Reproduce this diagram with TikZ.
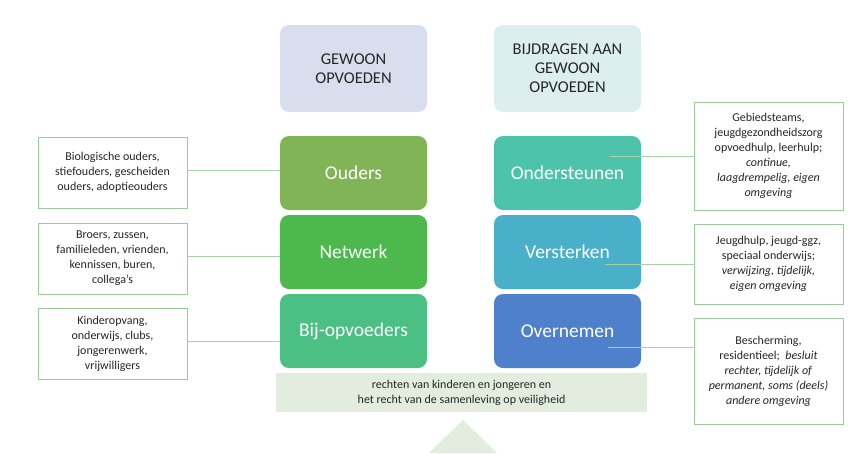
\documentclass[tikz,border=0pt]{standalone}
\usepackage{fontspec}
\setmainfont{Carlito}
\begin{document}
\begin{tikzpicture}[x=1pt,y=-1pt,
  big/.style={rounded corners=9pt,text=white,font=\fontsize{19.5}{22}\selectfont,align=center},
  head/.style={rounded corners=9pt,font=\fontsize{16.5}{19}\selectfont,align=center,text=black!85},
  side/.style={draw=green!50!black!40,line width=0.6pt,fill=white,font=\fontsize{12}{15}\selectfont,align=center,text=black!85,inner sep=1pt},
  conn/.style={draw=green!50!black!35,line width=0.6pt}]
\useasboundingbox (0,0) rectangle (856,453);
\definecolor{h1}{HTML}{D9DEEE}\definecolor{h2}{HTML}{DDEEEE}
\definecolor{c1}{HTML}{80B456}\definecolor{c2}{HTML}{4CB84E}\definecolor{c3}{HTML}{4CBF84}
\definecolor{c4}{HTML}{4DC3AC}\definecolor{c5}{HTML}{4AAFC9}\definecolor{c6}{HTML}{4E80CC}
\definecolor{bar}{HTML}{E2EDDF}
% triangle
\fill[bar] (463,420) -- (497,453) -- (429,453) -- cycle;
\node[head,fill=h1,minimum width=147pt,minimum height=87pt] (h1) at (353.5,68.5) {GEWOON\\OPVOEDEN};
\node[head,fill=h2,minimum width=147pt,minimum height=87pt] (h2) at (567.5,68.5) {BIJDRAGEN AAN\\GEWOON\\OPVOEDEN};
\foreach \n/\c/\y/\t in {o/c1/173/Ouders,n/c2/252/Netwerk,b/c3/331/Bij-opvoeders}
  \node[big,fill=\c,minimum width=147pt,minimum height=74pt] (\n) at (353.5,\y) {\t};
\foreach \n/\c/\y/\t in {on/c4/173/Ondersteunen,v/c5/252/Versterken,ov/c6/331/Overnemen}
  \node[big,fill=\c,minimum width=147pt,minimum height=74pt] (\n) at (567.5,\y) {\t};
\node[fill=bar,minimum width=371pt,minimum height=39pt,font=\fontsize{12}{15}\selectfont,align=center,text=black!85] (bar) at (461.5,392.5) {rechten van kinderen en jongeren en\\het recht van de samenleving op veiligheid};
% left boxes
\node[side,minimum width=149pt,minimum height=71pt] (l1) at (112.5,172.5) {Biologische ouders,\\stiefouders, gescheiden\\ouders, adoptieouders};
\node[side,minimum width=149pt,minimum height=71pt] (l2) at (112.5,258.5) {Broers, zussen,\\familieleden, vrienden,\\kennissen, buren,\\collega’s};
\node[side,minimum width=149pt,minimum height=71pt] (l3) at (112.5,343.5) {Kinderopvang,\\onderwijs, clubs,\\jongerenwerk,\\vrijwilligers};
\draw[conn] (l1.east |- 0,170) -- (o.west |- 0,170);
\draw[conn] (l2.east |- 0,256) -- (n.west |- 0,256);
\draw[conn] (l3.east |- 0,341) -- (b.west |- 0,341);
% right boxes
\node[side,minimum width=149pt,minimum height=108pt] (r1) at (768.5,156) {Gebiedsteams,\\jeugdgezondheidszorg\\opvoedhulp, leerhulp;\\\textit{continue,}\\\textit{laagdrempelig, eigen}\\\textit{omgeving}};
\node[side,minimum width=149pt,minimum height=80pt] (r2) at (768.5,264) {Jeugdhulp, jeugd-ggz,\\speciaal onderwijs;\\\textit{verwijzing, tijdelijk,}\\\textit{eigen omgeving}};
\node[side,minimum width=149pt,minimum height=106pt] (r3) at (768.5,371) {Bescherming,\\residentieel;~ \textit{besluit}\\\textit{rechter, tijdelijk of}\\\textit{permanent, soms (deels)}\\\textit{andere omgeving}};
\coordinate (a1) at (610,156); \coordinate (a2) at (605,264); \coordinate (a3) at (608,347);
\draw[conn] (a1) -- (r1.west |- a1);
\draw[conn] (a2) -- (r2.west |- a2);
\draw[conn] (a3) -- (r3.west |- a3);
\end{tikzpicture}
\end{document}
